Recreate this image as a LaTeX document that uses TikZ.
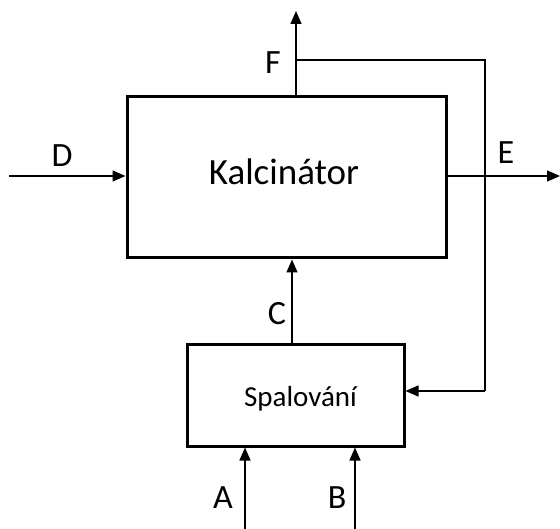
\documentclass[tikz,border=0pt]{standalone}
\usepackage{fontspec}
\setmainfont{Carlito}
\usetikzlibrary{arrows.meta}
\begin{document}
\begin{tikzpicture}[x=1pt,y=-1pt,
  blockbox/.style={draw,line width=3pt,inner sep=0pt},
  flow/.style={line width=1.4pt,-{Triangle[length=13pt,width=11pt]}},
  plain/.style={line width=1.4pt},
  lbl/.style={inner sep=0pt,font=\fontsize{34}{34}\selectfont}]
\useasboundingbox (0,0) rectangle (560,529);
\node[blockbox,minimum width=319pt,minimum height=161pt] (kal) at (286.5,177.5) {};
\node[inner sep=0pt,font=\fontsize{37}{37}\selectfont] (kaltext) at (284,172) {Kalcinátor};
\node[blockbox,minimum width=217pt,minimum height=101pt] (spal) at (295.5,395.5) {};
\node[inner sep=0pt,font=\fontsize{29}{29}\selectfont] (spaltext) at (300.5,399) {Spalování};
% D
\coordinate (dstart) at (9,176);
\draw[flow] (dstart) -- (dstart -| kal.west);
\node[lbl] (dl) at (62,156) {D};
% E
\coordinate (eend) at (560,176);
\draw[flow] (eend -| kal.east) -- (eend);
\node[lbl] (el) at (506,153) {E};
% F
\coordinate (ftop) at (296,11);
\draw[flow] (ftop |- kal.north) -- (ftop);
\node[lbl] (fl) at (273,63) {F};
% feedback
\coordinate (fbstart) at (296,60);
\coordinate (fbcorner) at (485,60);
\coordinate (fbdown) at (485,391);
\draw[plain] (fbstart) -- (fbcorner) -- (fbdown);
\draw[flow] (fbdown) -- (fbdown -| spal.east);
% C
\coordinate (cx) at (292,300);
\draw[flow] (cx |- spal.north) -- (cx |- kal.south);
\node[lbl] (cl) at (277,314) {C};
% A and B
\coordinate (abot) at (245,529);
\coordinate (bbot) at (355,529);
\draw[flow] (abot) -- (abot |- spal.south);
\draw[flow] (bbot) -- (bbot |- spal.south);
\node[lbl] (al) at (223,498) {A};
\node[lbl] (bl) at (337,498) {B};
\end{tikzpicture}
\end{document}
